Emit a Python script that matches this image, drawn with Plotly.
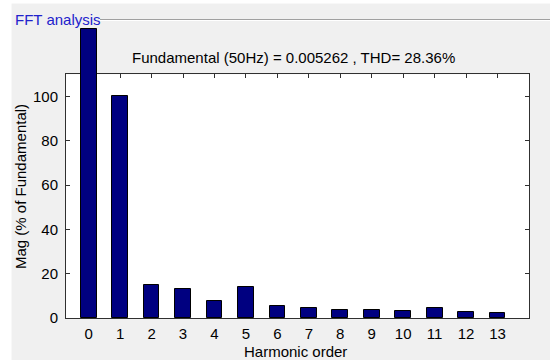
import plotly.graph_objects as go

# ---- data ----
harmonic_order = list(range(14))
magnitude_pct = [130.5, 100.0, 15.1, 13.3, 7.5, 13.9, 5.4, 4.3, 3.7, 3.7, 3.3, 4.3, 2.8, 2.2]
x_tick_labels = [str(h) for h in harmonic_order]
y_tick_vals = [0, 20, 40, 60, 80, 100]
title_text = "Fundamental (50Hz) = 0.005262 , THD= 28.36%"
panel_title = "FFT analysis"
x_label = "Harmonic order"
y_label = "Mag (% of Fundamental)"

# ---- layout geometry (pixels) ----
W, H = 550, 360
ML, MR, MT, MB = 66, 21, 18, 42
PW, PH = W - ML - MR, H - MT - MB
BOTTOM = H - MB
FRAME_TOP = 74.3
Y_MAX = 110
X_RANGE = [-0.72, 14.0]
TICKLEN = 4
dom_top = (BOTTOM - FRAME_TOP) / PH
px_per_unit = (BOTTOM - FRAME_TOP) / Y_MAX
y2_max = PH / px_per_unit

def px_x(p):
    return (p - ML) / PW

def px_y(p):
    return (BOTTOM - p) / PH

FONT = "Liberation Sans, Arial, sans-serif"
GRAY = "#f0f0f0"
AXC = "#303030"

fig = go.Figure()
# empty trace so the framed axes (x, y) are drawn
fig.add_trace(go.Scatter(x=[None], y=[None], xaxis="x", yaxis="y",
                         mode="markers", showlegend=False, hoverinfo="skip"))
# bars on an independent, taller (hidden) axis pair with the same scale
fig.add_trace(go.Bar(
    x=harmonic_order, y=magnitude_pct, width=0.5,
    marker=dict(color="#000080", line=dict(color="black", width=1)),
    xaxis="x2", yaxis="y2", showlegend=False,
))

common_tick = dict(showline=True, linecolor=AXC, linewidth=1, ticks="inside",
                   ticklen=TICKLEN, tickcolor=AXC, showgrid=False, zeroline=False,
                   layer="below traces", automargin=False)

fig.update_layout(
    width=W, height=H,
    margin=dict(l=ML, r=MR, t=MT, b=MB, pad=0),
    paper_bgcolor=GRAY, plot_bgcolor="rgba(0,0,0,0)",
    font=dict(family=FONT, size=15, color="black"),
    xaxis=dict(
        domain=[0, 1], range=X_RANGE, tickvals=harmonic_order, ticktext=x_tick_labels,
        anchor="y", mirror="ticks", tickfont=dict(size=15), ticklabelstandoff=2,
        **common_tick,
    ),
    yaxis=dict(
        domain=[0, dom_top], range=[0, Y_MAX], tickvals=y_tick_vals,
        anchor="x", mirror="ticks", tickfont=dict(size=15), ticklabelstandoff=4,
        **common_tick,
    ),
    xaxis2=dict(
        domain=[0, 1], range=X_RANGE, anchor="y2", visible=False,
        showgrid=False, zeroline=False, automargin=False,
    ),
    yaxis2=dict(
        domain=[0, 1], range=[0, y2_max], anchor="x2", visible=False,
        showgrid=False, zeroline=False, automargin=False,
    ),
    bargap=0,
)

shapes = [
    # white plotting box
    dict(type="rect", xref="x domain", yref="y domain", x0=0, x1=1, y0=0, y1=1,
         fillcolor="white", line=dict(width=0), layer="below"),
    # white strip on the left and top of window
    dict(type="rect", xref="paper", yref="paper", x0=px_x(-5), x1=px_x(11.5),
         y0=px_y(H + 5), y1=px_y(-5), fillcolor="white", line=dict(width=0), layer="below"),
    dict(type="rect", xref="paper", yref="paper", x0=px_x(-5), x1=px_x(W + 5),
         y0=px_y(3.5), y1=px_y(-5), fillcolor="white", line=dict(width=0), layer="below"),
    # panel etched line
    dict(type="line", xref="paper", yref="paper", x0=px_x(100), x1=px_x(W + 5),
         y0=px_y(19.5), y1=px_y(19.5), line=dict(color="#a0a0a0", width=1)),
    dict(type="line", xref="paper", yref="paper", x0=px_x(100), x1=px_x(W + 5),
         y0=px_y(20.5), y1=px_y(20.5), line=dict(color="#ffffff", width=1)),
]
fig.update_layout(shapes=shapes)

annotations = [
    dict(text=panel_title, xref="paper", yref="paper", x=px_x(13), y=px_y(19.5),
         xanchor="left", yanchor="middle", showarrow=False,
         font=dict(size=15, color="#2222cc")),
    dict(text=title_text, xref="paper", yref="paper", x=px_x(293.5), y=px_y(57),
         xanchor="center", yanchor="middle", showarrow=False, font=dict(size=15)),
    dict(text=x_label, xref="paper", yref="paper", x=px_x(295.5), y=px_y(351),
         xanchor="center", yanchor="middle", showarrow=False, font=dict(size=15)),
    dict(text=y_label, xref="paper", yref="paper", x=px_x(20.5), y=px_y(186.5),
         xanchor="center", yanchor="middle", showarrow=False, textangle=-90,
         font=dict(size=15)),
]
fig.update_layout(annotations=annotations)

fig.write_html("out.html", config={"displayModeBar": False},
               post_script="document.body.style.margin='0';document.body.style.overflow='hidden';")
